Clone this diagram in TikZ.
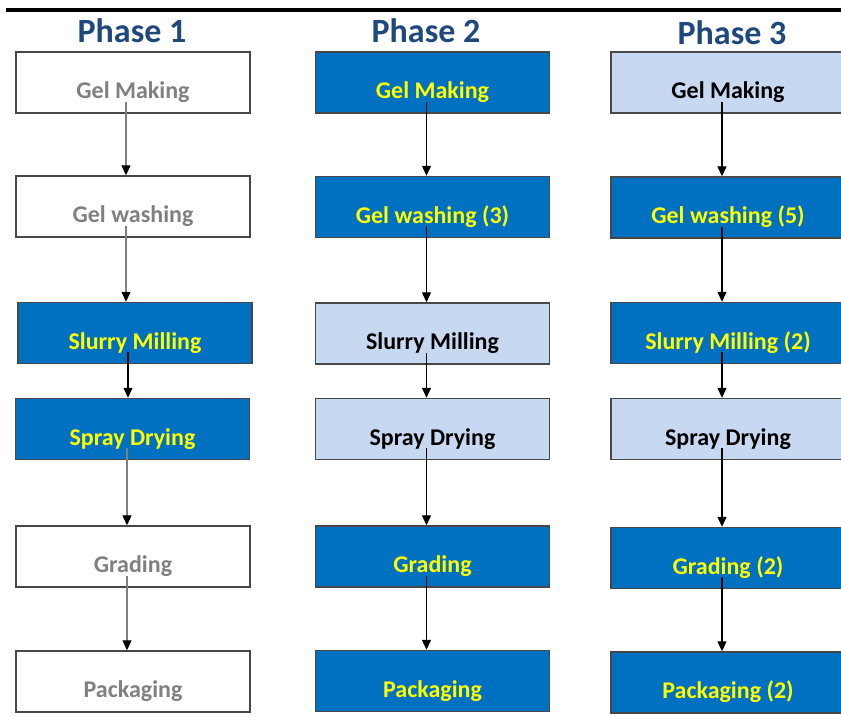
\documentclass[tikz,border=0pt]{standalone}
\usepackage{fontspec}
\setmainfont{Carlito}
\usetikzlibrary{arrows.meta}
\definecolor{dblue}{HTML}{0070C0}
\definecolor{lblue}{HTML}{C6D9F1}
\definecolor{ttl}{HTML}{1F497D}
\definecolor{gtxt}{HTML}{808080}
\definecolor{yel}{HTML}{FFFF00}
\begin{document}
\begin{tikzpicture}[x=1pt,y=-1pt,
 box/.style={draw=black!72, line width=1.4pt, minimum width=234pt, minimum height=61pt, inner sep=0pt, text height=32pt, text depth=0pt, font=\fontsize{24}{24}\selectfont\bfseries},
 wbox/.style={box, fill=white, text=gtxt},
 bbox/.style={box, fill=dblue, text=yel},
 lbox/.style={box, fill=lblue, text=black},
 title/.style={font=\fontsize{34}{34}\selectfont\bfseries, text=ttl, inner sep=0pt},
 arr/.style={-{Triangle[width=9pt,length=10pt,color=black]}, line width=1.2pt, draw=black},
 garr/.style={arr, draw=black!50}
]
\useasboundingbox (0,0) rectangle (841,717);
\fill[white] (0,0) rectangle (841,717);
\draw[line width=4pt, black] (6,10) coordinate (rl) -- (841,10) coordinate (rr);

% titles
\node[title] (t1) at (132,31) {Phase 1};
\node[title] (t2) at (426,31) {Phase 2};
\node[title] (t3) at (732,33) {Phase 3};

% phase 1
\node[wbox] (a1) at (133,82.5) {Gel Making};
\node[wbox] (a2) at (133,206.5) {Gel washing};
\node[bbox] (a3) at (135,333) {Slurry Milling};
\node[bbox] (a4) at (132.5,429) {Spray Drying};
\node[wbox] (a5) at (133,556.5) {Grading};
\node[wbox] (a6) at (133,681.5) {Packaging};

% phase 2
\node[bbox] (b1) at (432.5,82.5) {Gel Making};
\node[bbox] (b2) at (432.5,207) {Gel washing (3)};
\node[lbox] (b3) at (432.5,333.5) {Slurry Milling};
\node[lbox] (b4) at (432.5,429) {Spray Drying};
\node[bbox] (b5) at (432.5,556.5) {Grading};
\node[bbox] (b6) at (432.5,681) {Packaging};

% phase 3
\node[lbox] (c1) at (728,82.5) {Gel Making};
\node[bbox] (c2) at (728,207.5) {Gel washing (5)};
\node[bbox] (c3) at (728,333) {Slurry Milling (2)};
\node[lbox] (c4) at (728,429) {Spray Drying};
\node[bbox] (c5) at (728,558) {Grading (2)};
\node[bbox] (c6) at (728,682.5) {Packaging (2)};

% connectors phase 1
\draw[garr] ([xshift=-7pt,yshift=-19pt]a1.center) -- ([xshift=-7pt]a2.north);
\draw[garr] ([xshift=-7pt,yshift=-19pt]a2.center) -- ([xshift=-9pt]a3.north);
\draw[arr]  ([xshift=-7pt,yshift=-19pt]a3.center) -- ([xshift=-4.5pt]a4.north);
\draw[garr] ([xshift=-5.5pt,yshift=-19pt]a4.center) -- ([xshift=-6pt]a5.north);
\draw[garr] ([xshift=-6pt,yshift=-19pt]a5.center) -- ([xshift=-6pt]a6.north);

% connectors phase 2
\foreach \u/\v in {b1/b2,b2/b3,b3/b4,b4/b5,b5/b6}
  \draw[arr] ([xshift=-6pt,yshift=-19pt]\u.center) -- ([xshift=-6pt]\v.north);

% connectors phase 3
\foreach \u/\v in {c1/c2,c2/c3,c3/c4,c4/c5,c5/c6}
  \draw[arr] ([xshift=-6pt,yshift=-19pt]\u.center) -- ([xshift=-6pt]\v.north);
\end{tikzpicture}
\end{document}
